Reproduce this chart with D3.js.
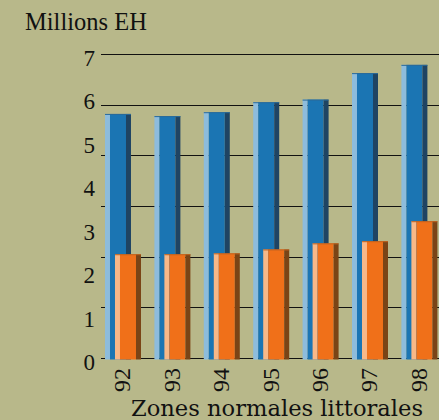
<!DOCTYPE html>
<html>
<head>
<meta charset="utf-8">
<script src="https://cdn.jsdelivr.net/npm/d3@7"></script>
<style>
  html, body { margin: 0; padding: 0; background: #b8b88a; }
  svg { display: block; }
</style>
</head>
<body>
<svg id="chart" width="439" height="420"></svg>
<script>
// ---- data ----
const years = ["92", "93", "94", "95", "96", "97", "98"];
const seriesBlue = [5.62, 5.57, 5.66, 5.89, 5.95, 6.56, 6.75];
const seriesOrange = [2.39, 2.39, 2.41, 2.50, 2.64, 2.69, 3.15];
const yTicks = [0, 1, 2, 3, 4, 5, 6, 7];
const gridCount = 7;
const yTitle = "Millions EH";
const xTitle = "Zones normales littorales";

// ---- layout ----
const W = 439, H = 420;
const svg = d3.select("#chart");
svg.append("rect").attr("width", W).attr("height", H).attr("fill", "#b8b88a");

const y = d3.scaleLinear().domain([0, 7]).range([358, 54]);
const x = d3.scaleBand().domain(years).range([96, 446.4]).paddingInner(0.271).paddingOuter(0.182);

const barW = 26, offset = 10, stripe = 5, shade = 5;
const baseY = 359.5;

// gridlines (7 evenly spaced lines over the value range)
const gridVals = d3.range(gridCount).map(i => i * 7 / (gridCount - 1));
svg.append("g").selectAll("line").data(gridVals).join("line")
  .attr("x1", 101).attr("x2", W)
  .attr("y1", d => Math.round(y(d)) + 0.5)
  .attr("y2", d => Math.round(y(d)) + 0.5)
  .attr("stroke", "#111").attr("stroke-width", 1);

// y tick labels
svg.append("g").selectAll("text").data(yTicks).join("text")
  .attr("x", 95).attr("y", d => y(d) + 12)
  .attr("text-anchor", "end")
  .attr("font-family", "Liberation Serif, serif")
  .attr("font-size", 23)
  .attr("fill", "#111")
  .text(d => d);

// 3D-ish bars
function drawBars(values, dx, cols, cls) {
  const g = svg.append("g").attr("class", cls);
  const grp = g.selectAll("g").data(values).join("g")
    .attr("transform", (d, i) => `translate(${x(years[i]) + dx},0)`);
  grp.append("rect")
    .attr("x", 0).attr("y", d => y(d)).attr("width", stripe)
    .attr("height", d => baseY - y(d)).attr("fill", cols.light);
  grp.append("rect")
    .attr("x", stripe).attr("y", d => y(d)).attr("width", barW - stripe - shade)
    .attr("height", d => baseY - y(d)).attr("fill", cols.main);
  grp.append("rect")
    .attr("x", barW - shade).attr("y", d => y(d)).attr("width", shade)
    .attr("height", d => baseY - y(d)).attr("fill", cols.dark);
  grp.append("rect")
    .attr("x", 0).attr("y", d => y(d)).attr("width", barW)
    .attr("height", 1).attr("fill", cols.top);
}

drawBars(seriesBlue, 0, { light: "#8dbcdc", main: "#1b75b3", dark: "#1f4463", top: "#2a6a9a" }, "blue");
drawBars(seriesOrange, offset, { light: "#f8b888", main: "#f07019", dark: "#7a4416", top: "#c0621e" }, "orange");

// x tick labels (rotated)
svg.append("g").selectAll("text").data(years).join("text")
  .attr("transform", d => `translate(${x(d) + 25.5},368) rotate(-90)`)
  .attr("text-anchor", "end")
  .attr("font-family", "Liberation Serif, serif")
  .attr("font-size", 24)
  .attr("fill", "#111")
  .text(d => d);

// titles
svg.append("text")
  .attr("x", 25).attr("y", 30)
  .attr("font-family", "Liberation Serif, serif")
  .attr("font-size", 24.5)
  .attr("fill", "#111")
  .text(yTitle);

svg.append("text")
  .attr("x", 131).attr("y", 416)
  .attr("font-family", "DejaVu Serif, serif")
  .attr("font-size", 22)
  .attr("textLength", 292)
  .attr("lengthAdjust", "spacingAndGlyphs")
  .attr("fill", "#111")
  .text(xTitle);
</script>
</body>
</html>
